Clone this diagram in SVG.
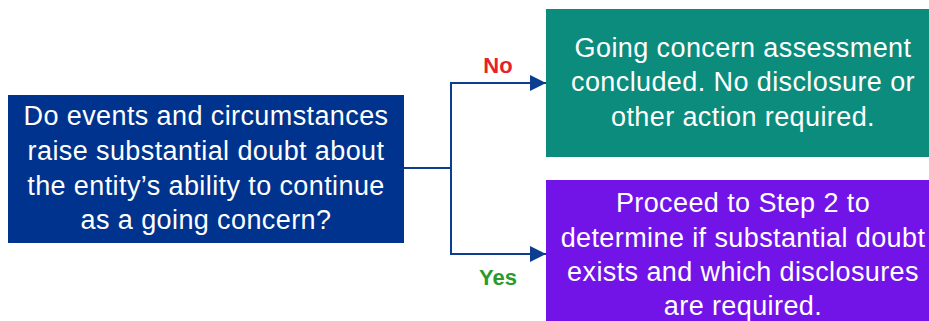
<svg xmlns="http://www.w3.org/2000/svg" width="929" height="321" viewBox="0 0 929 321">
<style>
.t{font-family:"Liberation Sans",Arial,sans-serif;font-size:27px;letter-spacing:0.4px;fill:#ffffff;text-anchor:middle}
.lbl{font-family:"Liberation Sans",Arial,sans-serif;font-size:22px;font-weight:bold;text-anchor:middle}
.c{fill:none;stroke:#0B3D91;stroke-width:2}
</style>
<defs>
<marker id="ah" markerWidth="16" markerHeight="16" refX="16" refY="8" orient="auto" markerUnits="userSpaceOnUse">
<path d="M0,0 L16,8 L0,16 Z" fill="#0B3D91"/>
</marker>
</defs>
<rect width="929" height="321" fill="#ffffff"/>
<g id="connectors">
<path class="c" d="M404,168 H451"/>
<path class="c" d="M451,168 V83 H546" marker-end="url(#ah)"/>
<path class="c" d="M451,168 V254 H546" marker-end="url(#ah)"/>
<text class="lbl" x="498" y="73" fill="#E8202A">No</text>
<text class="lbl" x="498" y="285" fill="#2A9A2A">Yes</text>
</g>
<g id="question">
<rect x="8" y="95" width="396" height="148" fill="#00338D"/>
<text class="t" x="206" y="125">Do events and circumstances</text>
<text class="t" x="206" y="160">raise substantial doubt about</text>
<text class="t" x="206" y="195">the entity’s ability to continue</text>
<text class="t" x="206" y="229">as a going concern?</text>
</g>
<g id="no-outcome">
<rect x="546" y="9" width="400" height="148" fill="#0B8C7C"/>
<text class="t" x="743" y="57">Going concern assessment</text>
<text class="t" x="743" y="91">concluded. No disclosure or</text>
<text class="t" x="743" y="126">other action required.</text>
</g>
<g id="yes-outcome">
<rect x="546" y="180" width="400" height="150" fill="#7214E8"/>
<text class="t" x="743" y="212">Proceed to Step 2 to</text>
<text class="t" x="743" y="247">determine if substantial doubt</text>
<text class="t" x="743" y="281">exists and which disclosures</text>
<text class="t" x="743" y="315">are required.</text>
</g>
</svg>
